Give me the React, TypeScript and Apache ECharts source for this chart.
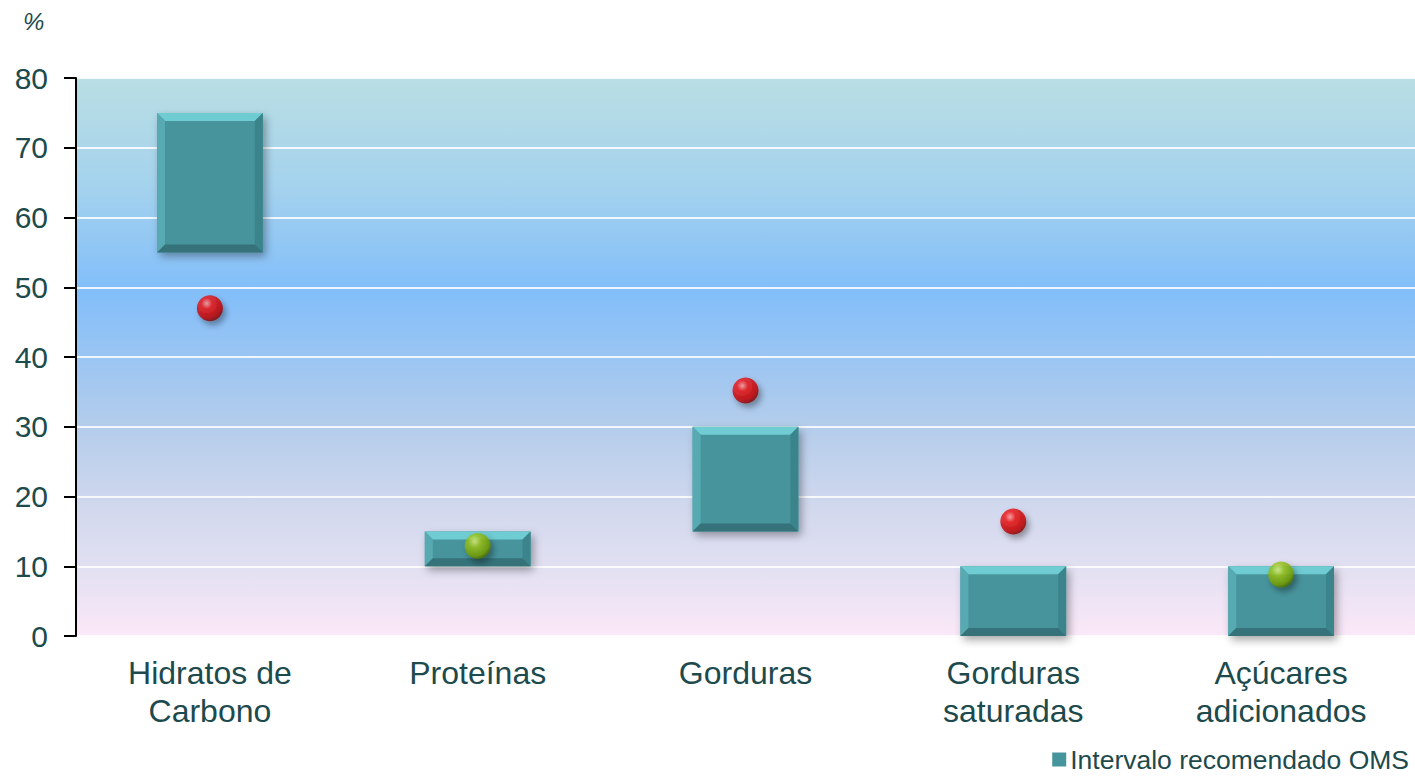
import React, { useEffect, useRef } from "react";
import * as echarts from "echarts";

const categories = ["Hidratos de\nCarbono", "Proteínas", "Gorduras", "Gorduras\nsaturadas", "Açúcares\nadicionados"];
const rangeLow = [55, 10, 15, 0, 0];
const rangeHigh = [75, 15, 30, 10, 10];
const intakeValues = [47, 12.9, 35.2, 16.4, 8.8];
const yTicks = { min: 0, max: 80, interval: 10 };
const legendName = "Intervalo recomendado OMS";

const TEXT = "#1d4a4c";
const FONT = "'Liberation Sans', Arial, sans-serif";

const redBall = new echarts.graphic.RadialGradient(0.38, 0.32, 0.7, [
  { offset: 0, color: "#ff9a9a" },
  { offset: 0.3, color: "#f01010" },
  { offset: 0.8, color: "#c00000" },
  { offset: 1, color: "#800000" },
]);
const greenBall = new echarts.graphic.RadialGradient(0.38, 0.32, 0.7, [
  { offset: 0, color: "#e0f080" },
  { offset: 0.35, color: "#9cc418" },
  { offset: 0.8, color: "#76a000" },
  { offset: 1, color: "#4a6800" },
]);

export default function App() {
  const ref = useRef<HTMLDivElement>(null);
  useEffect(() => {
    if (!ref.current) return;
    const chart = echarts.init(ref.current, undefined, { renderer: "svg" });
    const option: any = {
      animation: false,
      textStyle: { fontFamily: FONT },
      grid: {
        left: 76,
        right: 0,
        top: 78,
        bottom: 142,
        show: true,
        borderWidth: 0,
        backgroundColor: new echarts.graphic.LinearGradient(0, 0, 0, 1, [
          { offset: 0, color: "#b9dee3" },
          { offset: 0.2, color: "#a4d2ee" },
          { offset: 0.38, color: "#82befa" },
          { offset: 0.63, color: "#b5cdeb" },
          { offset: 0.78, color: "#d3d9ee" },
          { offset: 0.88, color: "#e2e0f2" },
          { offset: 1, color: "#fbe8f8" },
        ]),
      },
      graphic: [
        {
          type: "text",
          left: 23,
          top: 9,
          style: { text: "%", fontSize: 24, fontStyle: "italic", fill: TEXT, fontFamily: FONT },
        },
      ],
      legend: {
        right: 1,
        bottom: 0,
        data: [legendName],
        icon: "rect",
        itemWidth: 14,
        itemHeight: 14,
        itemGap: 4,
        textStyle: { fontSize: 26.5, color: TEXT, fontFamily: FONT, padding: [0, 0, 0, -1] },
      },
      xAxis: {
        type: "category",
        data: categories,
        axisLine: { show: false },
        axisTick: { show: false },
        axisLabel: { fontSize: 32, color: TEXT, lineHeight: 38, margin: 18, fontFamily: FONT },
        splitLine: { show: false },
      },
      yAxis: {
        type: "value",
        min: yTicks.min,
        max: yTicks.max,
        interval: yTicks.interval,
        axisLine: { show: true, lineStyle: { color: "#000", width: 2 } },
        axisTick: { show: true, length: 12, lineStyle: { color: "#000", width: 2 } },
        axisLabel: { fontSize: 30, color: TEXT, margin: 28, fontFamily: FONT },
        splitLine: { show: true, lineStyle: { color: "rgba(255,255,255,0.85)", width: 2 } },
      },
      series: [
        {
          name: legendName,
          type: "custom",
          itemStyle: { color: "#46949c" },
          data: categories.map((_, i) => [i, rangeLow[i], rangeHigh[i]]),
          encode: { x: 0, y: [1, 2] },
          z: 2,
          renderItem: (params: any, api: any) => {
            const idx = api.value(0);
            const pTop = api.coord([idx, api.value(2)]);
            const pBot = api.coord([idx, api.value(1)]);
            const w = api.size([1, 0])[0] * 0.395;
            const l = pTop[0] - w / 2;
            const r = l + w;
            const t = pTop[1];
            const b = pBot[1];
            const bv = Math.min(8, (b - t) / 3);
            return {
              type: "group",
              children: [
                {
                  type: "rect",
                  shape: { x: l, y: t, width: w, height: b - t },
                  style: {
                    fill: "#46949c",
                    shadowBlur: 8,
                    shadowOffsetX: 3,
                    shadowOffsetY: 4,
                    shadowColor: "rgba(0,0,0,0.35)",
                  },
                },
                {
                  type: "polygon",
                  shape: { points: [[l, t], [r, t], [r - bv, t + bv], [l + bv, t + bv]] },
                  style: { fill: "#6fccd2" },
                },
                {
                  type: "polygon",
                  shape: { points: [[l, t], [l + bv, t + bv], [l + bv, b - bv], [l, b]] },
                  style: { fill: "#57aab1" },
                },
                {
                  type: "polygon",
                  shape: { points: [[r, t], [r, b], [r - bv, b - bv], [r - bv, t + bv]] },
                  style: { fill: "#3c848b" },
                },
                {
                  type: "polygon",
                  shape: { points: [[l, b], [l + bv, b - bv], [r - bv, b - bv], [r, b]] },
                  style: { fill: "#35727a" },
                },
              ],
            };
          },
        },
        {
          name: "Consumo",
          type: "scatter",
          z: 5,
          symbolSize: 26,
          data: intakeValues.map((v, i) => ({
            value: [i, v],
            itemStyle: {
              color: v >= rangeLow[i] && v <= rangeHigh[i] ? greenBall : redBall,
              shadowBlur: 6,
              shadowOffsetX: 3,
              shadowOffsetY: 4,
              shadowColor: "rgba(0,0,0,0.45)",
            },
          })),
        },
      ],
    };
    chart.setOption(option);
    return () => chart.dispose();
  }, []);
  return (
    <div
      ref={ref}
      style={{ position: "fixed", left: 0, top: 0, width: 1415, height: 778, background: "#fff" }}
    />
  );
}
